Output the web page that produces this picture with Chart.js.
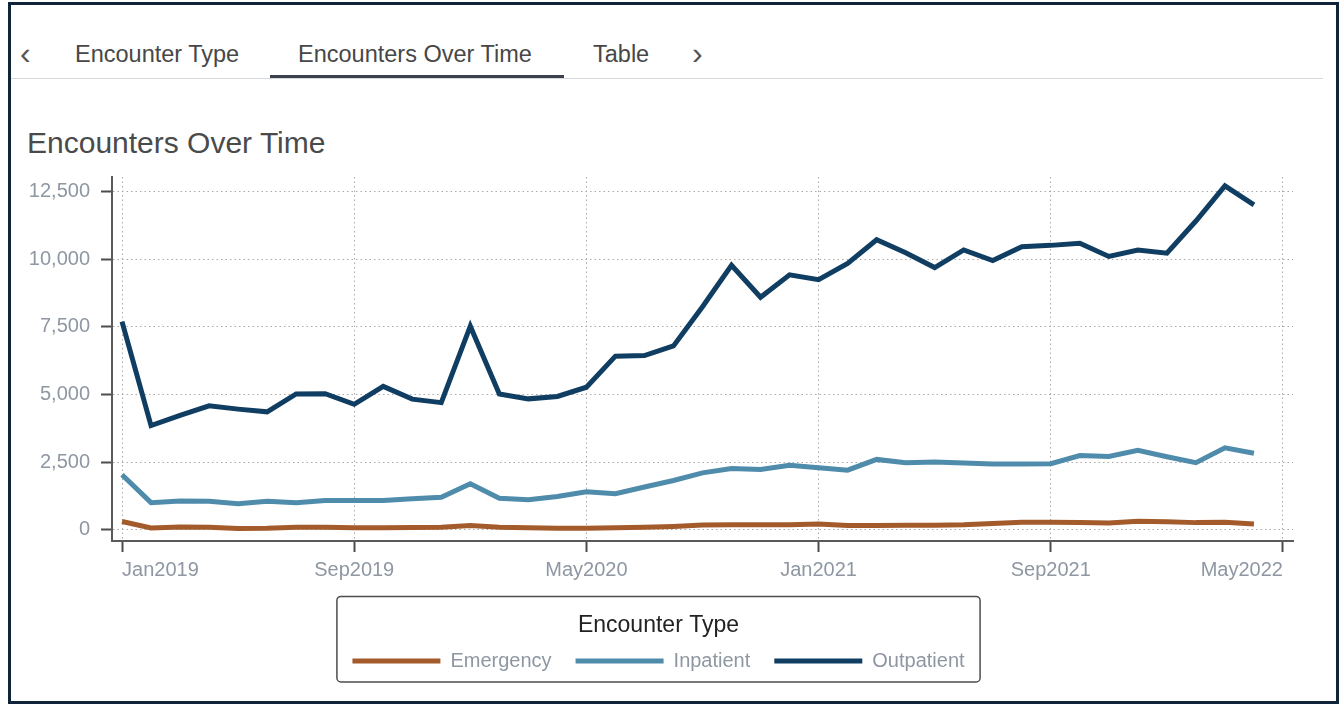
<!DOCTYPE html>
<html>
<head>
<meta charset="utf-8">
<title>Encounters Over Time</title>
<script src="https://cdn.jsdelivr.net/npm/chart.js@4/dist/chart.umd.min.js"></script>
<style>
  html, body { margin: 0; padding: 0; background: #fff; }
  body { width: 1339px; height: 704px; position: relative; overflow: hidden; font-family: "Liberation Sans", Arial, sans-serif; }
  .frame { position: absolute; left: 8px; top: 2px; width: 1331px; height: 702px; box-sizing: border-box; border: 3px solid #0f2438; }
  .tabs-line { position: absolute; left: 11px; top: 78px; width: 1312px; height: 1px; background: #d5d9de; }
  .tab { position: absolute; top: 39px; line-height: 30px; font-size: 23.5px; color: #474747; white-space: nowrap; }
  .tab-active { position: absolute; left: 270px; top: 75px; width: 294px; height: 3px; background: #3b424b; }
  .arrow { position: absolute; top: 36px; line-height: 34px; font-size: 32px; color: #555; }
  .title { position: absolute; left: 27px; top: 125px; line-height: 36px; font-size: 30px; color: #4a4a4a; white-space: nowrap; }
  .chart-box { position: absolute; left: 13px; top: 150px; width: 1291px; height: 540px; }
</style>
</head>
<body>
<div class="frame"></div>
<div class="arrow" style="left:20px">&lsaquo;</div>
<div class="tab" style="left:75px">Encounter Type</div>
<div class="tab" style="left:298px">Encounters Over Time</div>
<div class="tab" style="left:593px">Table</div>
<div class="arrow" style="left:692px">&rsaquo;</div>
<div class="tabs-line"></div>
<div class="tab-active"></div>
<div class="title">Encounters Over Time</div>
<div class="chart-box"><canvas id="encChart"></canvas></div>

<script>
// mesi (Jan2019 .. May2022), l'ultimo serve solo come etichetta dell'asse
const months = [
  'Jan2019', 'Feb2019', 'Mar2019', 'Apr2019', 'May2019', 'Jun2019', 'Jul2019', 'Aug2019',
  'Sep2019', 'Oct2019', 'Nov2019', 'Dec2019', 'Jan2020', 'Feb2020', 'Mar2020', 'Apr2020',
  'May2020', 'Jun2020', 'Jul2020', 'Aug2020', 'Sep2020', 'Oct2020', 'Nov2020', 'Dec2020',
  'Jan2021', 'Feb2021', 'Mar2021', 'Apr2021', 'May2021', 'Jun2021', 'Jul2021', 'Aug2021',
  'Sep2021', 'Oct2021', 'Nov2021', 'Dec2021', 'Jan2022', 'Feb2022', 'Mar2022', 'Apr2022',
  'May2022'
];

const emergency = [
  300, 60, 100, 85, 40, 50, 85, 90, 70, 70, 80, 90, 150, 90, 70, 50, 50, 70, 90, 120,
  170, 185, 185, 185, 210, 150, 150, 160, 160, 180, 230, 270, 270, 260, 250, 310, 290, 260, 270, 210
];

const inpatient = [
  2030, 1000, 1060, 1050, 960, 1050, 1000, 1080, 1080, 1080, 1140, 1200, 1700, 1160, 1110, 1230, 1400, 1330, 1580, 1820,
  2100, 2260, 2230, 2380, 2290, 2200, 2600, 2480, 2500, 2470, 2430, 2430, 2440, 2740, 2710, 2940, 2700, 2480, 3030, 2830
];

const outpatient = [
  7700, 3850, 4230, 4580, 4460, 4360, 5020, 5030, 4640, 5300, 4830, 4700, 7530, 5020, 4840, 4930, 5270, 6420, 6440, 6800,
  8250, 9780, 8600, 9430, 9250, 9850, 10730, 10250, 9700, 10350, 9960, 10470, 10520, 10600, 10110, 10350, 10230, 11420, 12720, 12020
];

const yTicks = [0, 2500, 5000, 7500, 10000, 12500];
const xTickEvery = 8; // un'etichetta ogni 8 mesi

const FONT = 'Liberation Sans';
const TICK_GREY = '#8e97a2';

function toPoints(values) {
  return values.map((v, i) => ({ x: i, y: v }));
}

// cornice arrotondata attorno alla legenda
const legendFrame = {
  id: 'legendFrame',
  afterDraw(chart) {
    const lg = chart.legend;
    if (!lg || !lg.legendHitBoxes.length) return;
    const boxes = lg.legendHitBoxes;
    const left = Math.min(...boxes.map(b => b.left)) - 15.5;
    const right = Math.max(...boxes.map(b => b.left + b.width)) + 15.5;
    const top = lg.top - 12;
    const bottom = lg.bottom + 1;
    const ctx = chart.ctx;
    ctx.save();
    ctx.strokeStyle = '#4d4d4d';
    ctx.lineWidth = 1.5;
    ctx.beginPath();
    ctx.roundRect(left, top, right - left, bottom - top, 4);
    ctx.stroke();
    ctx.restore();
  }
};

const gridStyle = {
  color: '#a9a9a9',
  lineWidth: 1,
  tickLength: 11,
  tickColor: '#4d4d4d',
  tickWidth: 2
};
const borderStyle = { display: true, color: '#5a5a5a', width: 2, dash: [1.5, 3] };

new Chart(document.getElementById('encChart'), {
  type: 'line',
  data: {
    datasets: [
      { label: 'Emergency', data: toPoints(emergency), borderColor: '#a45b2b', backgroundColor: '#a45b2b' },
      { label: 'Inpatient', data: toPoints(inpatient), borderColor: '#4f8cab', backgroundColor: '#4f8cab' },
      { label: 'Outpatient', data: toPoints(outpatient), borderColor: '#103d62', backgroundColor: '#103d62' }
    ]
  },
  options: {
    responsive: true,
    maintainAspectRatio: false,
    animation: false,
    layout: { padding: { top: 27, left: 11, right: 11, bottom: 9 } },
    elements: {
      line: { borderWidth: 5, tension: 0 },
      point: { radius: 0, hoverRadius: 0 }
    },
    scales: {
      x: {
        type: 'linear',
        min: -0.345,
        max: months.length - 1 + 0.345,
        afterBuildTicks(axis) {
          axis.ticks = months
            .map((m, i) => i)
            .filter(i => i % xTickEvery === 0)
            .map(i => ({ value: i }));
        },
        afterFit(axis) { axis.height = 67.4; },
        ticks: {
          align: 'inner',
          maxRotation: 0,
          autoSkip: false,
          padding: 6,
          color: TICK_GREY,
          font: { family: FONT, size: 20 },
          callback: (v) => months[v]
        },
        grid: gridStyle,
        border: borderStyle
      },
      y: {
        min: -420,
        max: 13050,
        afterBuildTicks(axis) {
          axis.ticks = yTicks.map(v => ({ value: v }));
        },
        afterFit(axis) { axis.width = 88; },
        ticks: {
          padding: 11,
          color: TICK_GREY,
          font: { family: FONT, size: 20 },
          callback: (v) => v.toLocaleString('en-US')
        },
        grid: gridStyle,
        border: borderStyle
      }
    },
    plugins: {
      tooltip: { enabled: false },
      legend: {
        position: 'bottom',
        title: {
          display: true,
          text: 'Encounter Type',
          color: '#222',
          font: { family: FONT, size: 23 },
          padding: { top: 6, bottom: -15 }
        },
        labels: {
          boxWidth: 88,
          boxHeight: 5,
          padding: 24,
          color: TICK_GREY,
          font: { family: FONT, size: 20 },
          generateLabels(chart) {
            return chart.data.datasets.map((ds, i) => ({
              text: ds.label,
              fillStyle: ds.borderColor,
              strokeStyle: ds.borderColor,
              fontColor: TICK_GREY,
              lineWidth: 0,
              hidden: false,
              datasetIndex: i
            }));
          }
        }
      }
    }
  },
  plugins: [legendFrame]
});
</script>
</body>
</html>
